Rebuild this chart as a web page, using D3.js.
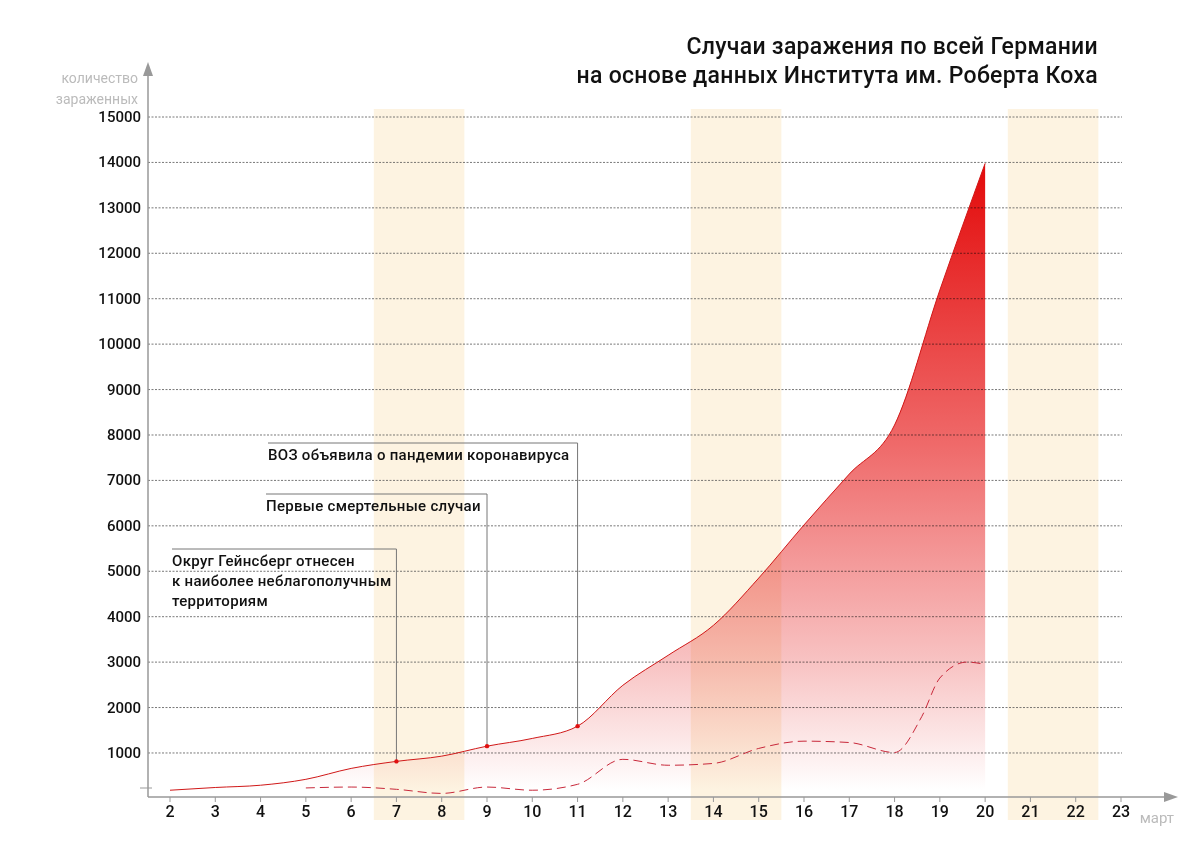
<!DOCTYPE html><html><head><meta charset="utf-8"><script src="https://cdn.jsdelivr.net/npm/d3@7"></script>
<style>body{margin:0;background:#fff}text{font-family:Roboto,"DejaVu Sans",sans-serif}</style></head><body><svg id="c" width="1200" height="863"></svg><script>
const days=[2,3,4,5,6,7,8,9,10,11,12,13,14,15,16,17,18,19,20];
const cases=[180,240,290,420,660,815,930,1150,1320,1590,2490,3150,3810,4850,6020,7140,8220,11190,13980];
const dDays=[5,6,7,8,9,10,11,12,13,14,15,16,17,18,18.6,19,19.6,20];
const daily=[230,250,200,110,250,180,310,860,730,770,1100,1260,1230,1010,1800,2650,3000,2950];
const xTicks=d3.range(2,24);
const yTicks=d3.range(1000,15001,1000);
const weekends=[[6.5,8.5],[13.5,15.5],[20.5,22.5]];
const notes=[{day:7,v:815,x0:172,lines:["Округ Гейнсберг отнесен","к наиболее неблагополучным","территориям"]},{day:9,v:1150,x0:266,lines:["Первые смертельные случаи"]},{day:11,v:1590,x0:268,lines:["ВОЗ объявила о пандемии коронавируса"]}];
const svg=d3.select("#c");
const x=d3.scaleLinear().domain([2,23]).range([170,1121]);
const y=d3.scaleLinear().domain([0,15000]).range([798.4,117]);
svg.selectAll(".wk").data(weekends).join("rect").attr("x",d=>x(d[0])).attr("width",d=>x(d[1])-x(d[0])).attr("y",109).attr("height",711).attr("fill","#fdf3e1");
svg.selectAll(".g").data(yTicks).join("line").attr("x1",148).attr("x2",1122).attr("y1",d=>y(d)).attr("y2",d=>y(d)).attr("stroke","#555").attr("stroke-width",0.8).attr("stroke-dasharray","2,1.5");
const defs=svg.append("defs");
const gr=defs.append("linearGradient").attr("id","gr").attr("x1",0).attr("y1",0).attr("x2",0).attr("y2",1);
gr.append("stop").attr("offset","0%").attr("stop-color","#e30a0a");
gr.append("stop").attr("offset","45%").attr("stop-color","#ef6a6a");
gr.append("stop").attr("offset","80%").attr("stop-color","#f8c4c4");
gr.append("stop").attr("offset","100%").attr("stop-color","#fff");
const area=d3.area().x((d,i)=>x(days[i])).y0(790).y1(d=>y(d)).curve(d3.curveMonotoneX);
svg.append("path").datum(cases).attr("d",area).attr("fill","url(#gr)").style("mix-blend-mode","multiply");
const line=d3.line().x((d,i)=>x(days[i])).y(d=>y(d)).curve(d3.curveMonotoneX);
svg.append("path").datum(cases).attr("d",line).attr("fill","none").attr("stroke","#d01818").attr("stroke-width",1);
svg.append("path").datum(daily).attr("d",d3.line().x((d,i)=>x(dDays[i])).y(d=>y(d)).curve(d3.curveMonotoneX)).attr("fill","none").attr("stroke","#c8283a").attr("stroke-width",1).attr("stroke-dasharray","9,5");
const ax=svg.append("g").attr("stroke","#999").attr("fill","#999");
ax.append("line").attr("x1",148).attr("x2",1168).attr("y1",797).attr("y2",797).attr("stroke-width",1.5);
ax.append("path").attr("d","M1178,797 L1164,792 L1164,802Z").attr("stroke","none");
ax.append("line").attr("x1",148).attr("x2",148).attr("y1",72).attr("y2",797).attr("stroke-width",1.5);
ax.append("path").attr("d","M148,62 L143,76 L153,76Z").attr("stroke","none");
ax.append("line").attr("x1",140).attr("x2",152).attr("y1",788).attr("y2",788);
svg.selectAll(".xt").data(xTicks).join("line").attr("x1",d=>x(d)).attr("x2",d=>x(d)).attr("y1",797).attr("y2",802).attr("stroke","#999");
svg.selectAll(".xl").data(xTicks).join("text").attr("x",d=>x(d)).attr("y",817).attr("text-anchor","middle").attr("font-size",16).attr("font-weight",500).attr("fill","#111").text(d=>d);
svg.selectAll(".yl").data(yTicks).join("text").attr("x",141).attr("y",d=>y(d)+5).attr("text-anchor","end").attr("font-size",15).attr("font-weight",500).attr("fill","#111").text(d=>d);
svg.append("text").attr("x",1174).attr("y",823).attr("text-anchor","end").attr("font-size",15).attr("fill","#bbb").text("март");
svg.append("text").attr("x",138).attr("y",83).attr("text-anchor","end").attr("font-size",14).attr("fill","#bbb").text("количество");
svg.append("text").attr("x",138).attr("y",104).attr("text-anchor","end").attr("font-size",14).attr("fill","#bbb").text("зараженных");
svg.append("text").attr("x",1098).attr("y",54).attr("text-anchor","end").attr("font-size",23).attr("font-weight",500).attr("letter-spacing",0.3).attr("fill","#111").text("Случаи заражения по всей Германии");
svg.append("text").attr("x",1098).attr("y",83).attr("text-anchor","end").attr("font-size",23).attr("font-weight",500).attr("letter-spacing",0.3).attr("fill","#111").text("на основе данных Института им. Роберта Коха");
const tops=[549,494,443];
notes.forEach((n,i)=>{const px=x(n.day),py=y(n.v),t=tops[i];
svg.append("path").attr("d",`M${n.x0},${t}H${px}V${py}`).attr("fill","none").attr("stroke","#777").attr("stroke-width",1);
svg.append("circle").attr("cx",px).attr("cy",py).attr("r",2.2).attr("fill","#e01010");
n.lines.forEach((l,j)=>svg.append("text").attr("x",n.x0).attr("y",t+17+j*20).attr("font-size",15).attr("font-weight",500).attr("letter-spacing",0.3).attr("fill","#111").text(l));});
</script></body></html>
